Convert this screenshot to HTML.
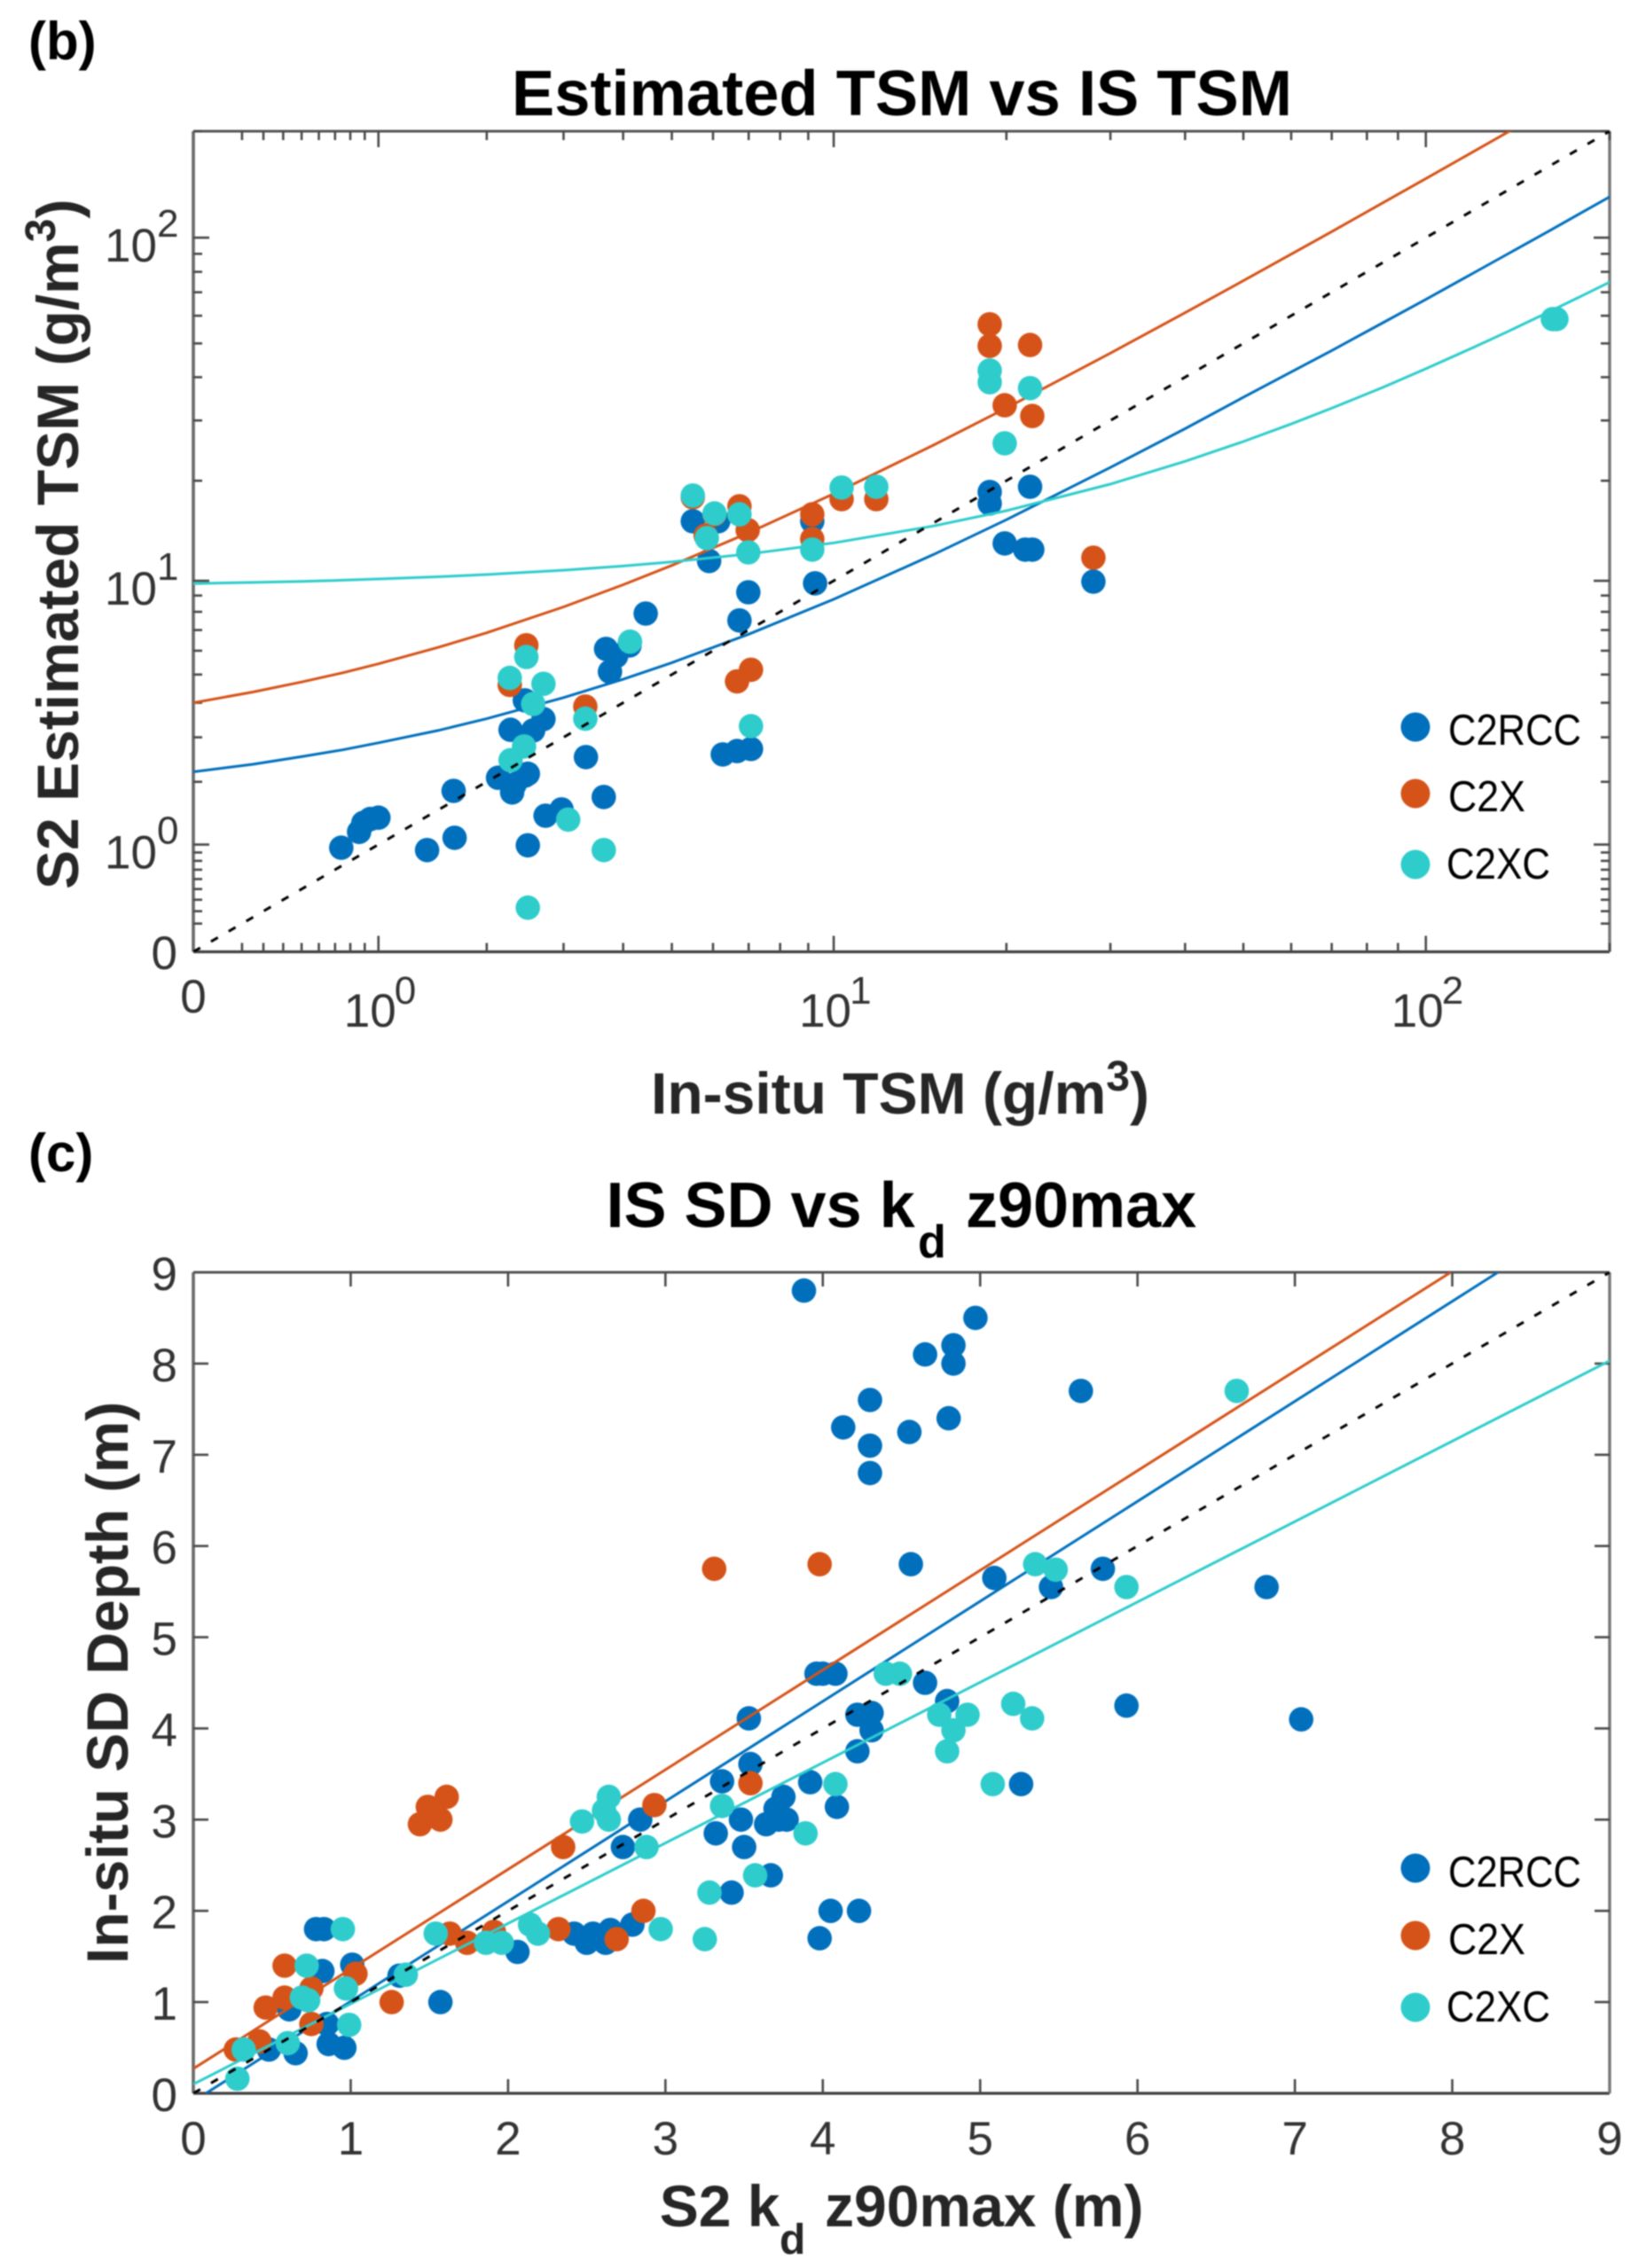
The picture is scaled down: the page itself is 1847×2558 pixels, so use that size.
<!DOCTYPE html>
<html lang="en">
<head>
<meta charset="utf-8">
<title>Estimated TSM and SD depth scatter charts</title>
<style>
html,body{margin:0;padding:0;background:#fff;}
svg{display:block;font-family:"Liberation Sans",sans-serif;filter:blur(0.7px);}
.title{font-weight:bold;font-size:72px;fill:#000;}
.axt{font-weight:bold;font-size:66px;fill:#262626;}
.panel{font-weight:bold;font-size:60px;fill:#000;}
.tick{font-size:53px;fill:#333;}
.leg{font-size:49px;fill:#000;}
</style>
</head>
<body>
<svg id="fig" xmlns="http://www.w3.org/2000/svg" width="1847" height="2558" viewBox="0 0 1847 2558">
  <rect x="0" y="0" width="1847" height="2558" fill="#fff"/>
  <defs>
    <clipPath id="clipB"><rect x="218" y="148" width="1597" height="925.5"/></clipPath>
    <clipPath id="clipC"><rect x="218" y="1435" width="1597" height="926"/></clipPath>
  </defs>

  <text class="panel" x="32" y="67">(b)</text>
  <text class="title" x="577" y="130" textLength="880" lengthAdjust="spacingAndGlyphs">Estimated TSM vs IS TSM</text>
  <g id="chartB"></g>
  <text class="axt" x="734" y="1256">In-situ TSM (g/m<tspan font-size="48" dy="-26">3</tspan><tspan dy="26">)</tspan></text>
  <text class="axt" transform="translate(88,1003) rotate(-90)" x="0" y="0">S2 Estimated TSM (g/m<tspan font-size="48" dy="-26">3</tspan><tspan dy="26">)</tspan></text>
  <g>
    <circle cx="1596" cy="820" r="16.5" fill="#0070BD"/>
    <text class="leg" x="1633" y="840" textLength="150" lengthAdjust="spacingAndGlyphs">C2RCC</text>
    <circle cx="1596" cy="895" r="16.5" fill="#D55318"/>
    <text class="leg" x="1633" y="915" textLength="87" lengthAdjust="spacingAndGlyphs">C2X</text>
    <circle cx="1596" cy="975" r="16.5" fill="#2FCCCC"/>
    <text class="leg" x="1631" y="991" textLength="117" lengthAdjust="spacingAndGlyphs">C2XC</text>
  </g>

  <text class="panel" x="32" y="1321">(c)</text>
  <text class="title" y="1384"><tspan x="683.5">IS SD vs k</tspan><tspan x="1035" y="1418" font-size="52">d</tspan><tspan x="1089" y="1384">z90max</tspan></text>
  <g id="chartC"></g>
  <text class="axt" y="2511"><tspan x="743.7">S2 k</tspan><tspan x="879" y="2542" font-size="48">d</tspan><tspan x="930" y="2511">z90max (m)</tspan></text>
  <text class="axt" transform="translate(144,2215) rotate(-90)" x="0" y="0">In-situ SD Depth (m)</text>
  <g>
    <circle cx="1596" cy="2107" r="16.5" fill="#0070BD"/>
    <text class="leg" x="1633" y="2128" textLength="150" lengthAdjust="spacingAndGlyphs">C2RCC</text>
    <circle cx="1596" cy="2183" r="16.5" fill="#D55318"/>
    <text class="leg" x="1633" y="2204" textLength="87" lengthAdjust="spacingAndGlyphs">C2X</text>
    <circle cx="1596" cy="2264" r="16.5" fill="#2FCCCC"/>
    <text class="leg" x="1631" y="2280" textLength="117" lengthAdjust="spacingAndGlyphs">C2XC</text>
  </g>
</svg>

<script>
// ---- Chart (b): values in g/m3 ----
const tsmMajorTicks = [1, 10, 100];
const tsmMajorExponents = ['0', '1', '2'];
const tsmMinorTicks = [0.2,0.3,0.4,0.5,0.6,0.7,0.8,0.9,2,3,4,5,6,7,8,9,20,30,40,50,60,70,80,90,200];
const tsmAxisMax = [200];

const tsmBlueX = [0.74,0.86,0.89,0.94,1.0,1.40,1.66,1.65,2.13,2.30,2.33,2.46,2.50,2.28,2.57,2.71,2.46,2.50,2.74,2.97,3.35,3.65,3.69,3.87,3.76,4.12,4.44,6.26,6.66,7.07,6.73,6.99,9.26,5.49,6.14,5.9,9.15,18.73,18.73,21.95,19.87,21.53,22.14,28.09];
const tsmBlueY = [0.96,1.17,1.30,1.36,1.38,0.93,1.09,1.83,2.08,1.80,1.95,2.12,2.16,3.20,3.18,3.50,4.08,0.99,1.41,1.51,2.52,1.72,6.08,5.76,5.11,6.24,7.90,2.58,2.66,2.71,7.51,9.21,9.82,15.16,15.16,11.5,15.16,18.52,17.12,19.2,13.0,12.45,12.45,9.94];

const tsmOrangeX = [2.48,2.27,3.34,6.66,7.07,5.49,5.81,6.04,6.73,6.97,9.15,9.15,10.33,11.9,18.73,18.73,21.95,19.87,22.14,28.09];
const tsmOrangeY = [6.25,4.61,3.88,4.74,5.19,17.86,13.74,15.9,16.8,14.26,15.9,13.4,17.64,17.64,56.7,49.2,49.5,33.2,30.9,11.77];

const tsmCyanX = [2.27,2.48,2.71,2.57,2.28,2.45,3.34,4.13,3.07,3.65,2.5,7.07,5.49,6.04,5.84,6.73,6.99,9.15,10.33,11.9,18.73,18.73,21.95,19.87,161.5,163.7];
const tsmCyanY = [4.87,5.72,4.65,3.96,2.45,2.77,3.51,6.42,1.35,0.93,0.33,3.30,18.08,16.0,13.49,15.9,12.22,12.45,19.09,19.2,41.8,38.7,37.2,25.75,58.7,58.7];

const tsmFitX = [0,0.25,0.5,0.75,1,1.5,2,3,4,5,7,10,15,20,30,40,50,60,70,85,100,120,137,140,160,180,200];
const tsmFitBlue = [2.2,2.36,2.53,2.69,2.86,3.18,3.51,4.17,4.82,5.48,6.79,8.76,12.04,15.32,21.88,28.4,35,41.4,47.7,57.3,66.8,79.6,90.4,92.3,105,117.8,130.5];
const tsmFitOrange = [4,4.36,4.72,5.07,5.43,6.15,6.86,8.29,9.72,11.15,14,18.3,25.45,32.6,46.9,61.2,75.5,89.8,104,125.6,147,175.6,199.9,204.2,232.8,261.4,290];
const tsmFitCyan = [9.8,9.88,9.96,10.04,10.13,10.29,10.45,10.78,11.1,11.43,12.08,13.05,14.68,16.3,19.55,22.8,26.05,29.3,32.55,37.4,42.3,48.8,54.3,55.3,61.8,68.3,74.8];
const tsmOneToOne = [0,200];

// ---- Chart (c): values in metres ----
const depthTicks = [0,1,2,3,4,5,6,7,8,9];

const depthBlueX = [3.88,4.97,4.83,4.83,4.65,5.64,4.3,4.8,4.13,4.55,4.3,4.3,4.56,5.09,5.45,5.78,6.82,5.93,7.04,5.26,3.96,4.0,4.08,3.53,4.22,4.31,4.31,4.22,4.65,4.79,4.09,4.05,4.23,3.98,3.54,3.36,3.92,2.84,2.73,3.48,3.32,3.5,3.64,3.72,3.77,3.75,3.7,3.67,3.42,0.83,0.78,2.42,2.5,2.54,2.65,2.62,2.79,2.06,1.57,1.31,1.01,0.82,0.61,0.85,0.86,0.96,0.65,0.48];
const depthBlueY = [8.8,8.5,8.2,8.0,8.1,7.7,7.6,7.4,7.3,7.25,7.1,6.8,5.8,5.65,5.55,5.75,5.55,4.25,4.1,3.39,4.6,4.6,4.6,4.11,4.15,4.17,3.98,3.75,4.5,4.3,3.14,2.0,2.0,1.7,3.61,3.42,3.41,3.0,2.7,3.0,2.85,2.7,2.95,3.0,3.0,3.25,3.12,2.39,2.2,1.8,1.8,1.75,1.65,1.75,1.79,1.65,1.85,1.55,1.0,1.29,1.41,1.34,0.92,0.76,0.54,0.5,0.44,0.48];

const depthOrangeX = [1.61,1.49,1.44,1.57,2.35,2.93,3.54,2.86,2.69,2.32,1.63,1.91,1.74,0.58,1.03,0.75,0.58,0.46,1.26,0.75,0.42,0.27,3.31,3.98];
const depthOrangeY = [3.25,3.14,2.95,3.0,2.7,3.16,3.40,2.0,1.69,1.8,1.75,1.77,1.65,1.40,1.31,1.15,1.05,0.94,1.0,0.76,0.57,0.48,5.75,5.8];

const depthCyanX = [2.64,2.61,2.64,2.47,2.88,3.36,3.89,3.57,3.28,2.97,3.25,1.54,2.14,2.19,1.86,1.96,1.35,0.95,0.72,0.97,0.73,0.69,0.99,0.6,0.32,0.28,4.74,4.92,4.83,4.79,5.08,5.33,5.21,4.08,5.35,5.48,5.93,6.63,4.4,4.49];
const depthCyanY = [3.25,3.1,3.0,2.98,2.7,3.15,2.85,2.39,2.2,1.8,1.69,1.75,1.85,1.75,1.65,1.65,1.3,1.8,1.4,1.15,1.02,1.05,0.75,0.55,0.48,0.16,4.15,4.15,3.98,3.75,3.39,4.11,4.27,3.39,5.8,5.74,5.55,7.7,4.6,4.6];

const depthFitBlueX = [0.08,8.29];
const depthFitBlueY = [0,9];
const depthFitOrangeX = [0,7.99];
const depthFitOrangeY = [0.27,9];
const depthFitCyanX = [0,9];
const depthFitCyanY = [0.1,8.03];
const depthOneToOne = [0,9];

const SVGNS = 'http://www.w3.org/2000/svg';
const BLUE = '#0070BD', ORANGE = '#D55318', CYAN = '#2FCCCC';

function make(parent, tag) {
  const el = document.createElementNS(SVGNS, tag);
  parent.appendChild(el);
  return el;
}

function drawLine(parent, xs, ys, sx, sy, color, clip, dashed, name) {
  const el = make(parent, 'polyline');
  
  
  let pts = '';
  for (let i = 0; i < xs.length; i++) {
    pts += sx(xs[i]).toFixed(1) + ',' + sy(ys[i]).toFixed(1) + ' ';
  }
  el.setAttribute('points', pts);
  el.setAttribute('fill', 'none');
  el.setAttribute('stroke', color);
  el.setAttribute('stroke-width', '3');
  if (dashed) el.setAttribute('stroke-dasharray', '9 14');
  el.setAttribute('clip-path', 'url(#' + clip + ')');
}

function drawDots(parent, xs, ys, sx, sy, color, name) {
  for (let i = 0; i < xs.length; i++) {
    const c = make(parent, 'circle');
    
    
    c.setAttribute('cx', sx(xs[i]).toFixed(1));
    c.setAttribute('cy', sy(ys[i]).toFixed(1));
    c.setAttribute('r', '13.8');
    c.setAttribute('fill', color);
  }
}

function drawFrame(parent, L, T, R, B) {
  const sides = [[L, T, L, B, '#6a6a6a', 3.6], [L, T, R, T, '#555', 3], [L, B, R, B, '#404040', 3.2], [R, T, R, B, '#777', 3.4]];
  for (const s of sides) {
    const l = make(parent, 'line');
    
    
    l.setAttribute('x1', s[0]); l.setAttribute('y1', s[1]);
    l.setAttribute('x2', s[2]); l.setAttribute('y2', s[3]);
    l.setAttribute('stroke', s[4]); l.setAttribute('stroke-width', s[5]);
  }
}

function tickPair(parent, x1, y1, x2, y2, name) {
  const l = make(parent, 'line');
  
  
  l.setAttribute('x1', x1); l.setAttribute('y1', y1);
  l.setAttribute('x2', x2); l.setAttribute('y2', y2);
  l.setAttribute('stroke', '#4a4a4a');
  l.setAttribute('stroke-width', '2.6');
}

function label(parent, txt, x, y, anchor, size, name) {
  const t = make(parent, 'text');
  
  
  t.setAttribute('class', 'tick');
  t.setAttribute('x', x);
  t.setAttribute('y', y);
  t.setAttribute('text-anchor', anchor);
  if (size) t.style.fontSize = size + 'px';
  t.textContent = txt;
}

// ---- draw chart (b) ----
(function () {
  const g = document.getElementById('chartB');
  const L = 218, R = 1815, T = 148, B = 1073.5;
  const span = Math.log10(1 + tsmAxisMax[0]);
  const sx = v => L + (R - L) * Math.log10(1 + v) / span;
  const sy = v => B - (B - T) * Math.log10(1 + v) / span;

  drawFrame(g, L, T, R, B);
  for (const v of tsmMinorTicks) {
    const x = sx(v), y = sy(v);
    tickPair(g, x, B, x, B - 10, 'x-minor-tick');
    tickPair(g, x, T, x, T + 10, 'x-minor-tick-top');
    tickPair(g, L, y, L + 10, y, 'y-minor-tick');
    tickPair(g, R, y, R - 10, y, 'y-minor-tick-right');
  }
  tsmMajorTicks.forEach((v, i) => {
    const x = sx(v), y = sy(v);
    tickPair(g, x, B, x, B - 18, 'x-major-tick');
    tickPair(g, x, T, x, T + 18, 'x-major-tick-top');
    tickPair(g, L, y, L + 18, y, 'y-major-tick');
    tickPair(g, R, y, R - 18, y, 'y-major-tick-right');
    label(g, '10', x - 39, 1158, 'start', 0, 'x-tick-label');
    label(g, tsmMajorExponents[i], x + 18, 1132, 'start', 44, 'x-tick-exponent');
    label(g, '10', 177, y + 27, 'end', 0, 'y-tick-label');
    label(g, tsmMajorExponents[i], 177, y - 1, 'start', 44, 'y-tick-exponent');
  });
  label(g, '0', L, 1142, 'middle', 0, 'x-tick-label-zero');
  label(g, '0', 200, 1093, 'end', 0, 'y-tick-label-zero');

  drawDots(g, tsmBlueX, tsmBlueY, sx, sy, BLUE, 'c2rcc-point');
  drawLine(g, tsmFitX, tsmFitBlue, sx, sy, BLUE, 'clipB', false, 'c2rcc-fit-line');
  drawDots(g, tsmOrangeX, tsmOrangeY, sx, sy, ORANGE, 'c2x-point');
  drawLine(g, tsmFitX, tsmFitOrange, sx, sy, ORANGE, 'clipB', false, 'c2x-fit-line');
  drawDots(g, tsmCyanX, tsmCyanY, sx, sy, CYAN, 'c2xc-point');
  drawLine(g, tsmFitX, tsmFitCyan, sx, sy, CYAN, 'clipB', false, 'c2xc-fit-line');
  drawLine(g, tsmOneToOne, tsmOneToOne, sx, sy, '#000', 'clipB', true, 'one-to-one-line');
})();

// ---- draw chart (c) ----
(function () {
  const g = document.getElementById('chartC');
  const L = 218, R = 1815, T = 1435, B = 2361;
  const sx = v => L + (R - L) * v / 9;
  const sy = v => B - (B - T) * v / 9;

  drawFrame(g, L, T, R, B);
  for (const v of depthTicks) {
    const x = sx(v), y = sy(v);
    if (v > 0 && v < 9) {
      tickPair(g, x, B, x, B - 16, 'x-tick');
      tickPair(g, x, T, x, T + 16, 'x-tick-top');
      tickPair(g, L, y, L + 17, y, 'y-tick');
      tickPair(g, R, y, R - 17, y, 'y-tick-right');
    }
    label(g, String(v), x, 2430, 'middle', 0, 'x-tick-label');
    label(g, String(v), 200, y + 20, 'end', 0, 'y-tick-label');
  }

  drawDots(g, depthBlueX, depthBlueY, sx, sy, BLUE, 'c2rcc-point');
  drawLine(g, depthFitBlueX, depthFitBlueY, sx, sy, BLUE, 'clipC', false, 'c2rcc-fit-line');
  drawDots(g, depthOrangeX, depthOrangeY, sx, sy, ORANGE, 'c2x-point');
  drawLine(g, depthFitOrangeX, depthFitOrangeY, sx, sy, ORANGE, 'clipC', false, 'c2x-fit-line');
  drawDots(g, depthCyanX, depthCyanY, sx, sy, CYAN, 'c2xc-point');
  drawLine(g, depthFitCyanX, depthFitCyanY, sx, sy, CYAN, 'clipC', false, 'c2xc-fit-line');
  drawLine(g, depthOneToOne, depthOneToOne, sx, sy, '#000', 'clipC', true, 'one-to-one-line');
})();
</script>
</body>
</html>
